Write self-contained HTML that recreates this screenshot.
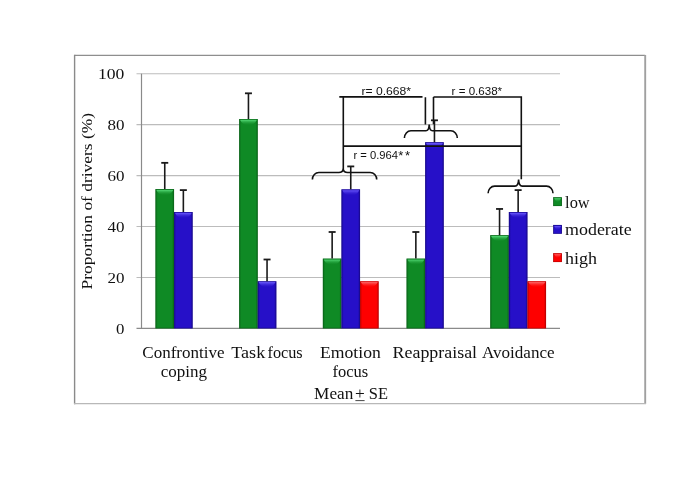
<!DOCTYPE html>
<html><head><meta charset="utf-8"><style>
html,body{margin:0;padding:0;background:#fff;}
body{width:685px;height:477px;overflow:hidden;}
svg{display:block;filter:blur(0.3px);}
.s{font-family:"Liberation Serif",serif;fill:#111;}
.a{font-family:"Liberation Sans",sans-serif;fill:#111;}
</style></head><body>
<svg width="685" height="477" viewBox="0 0 685 477">
<defs>
<linearGradient id="hg" x1="0" y1="0" x2="1" y2="0">
<stop offset="0" stop-color="#0a6a1a"/><stop offset="0.12" stop-color="#0f8a25"/>
<stop offset="0.88" stop-color="#0f8a25"/><stop offset="1" stop-color="#0a6a1a"/></linearGradient>
<linearGradient id="tg" x1="0" y1="0" x2="0" y2="1">
<stop offset="0" stop-color="#55dc78"/><stop offset="1" stop-color="#0f8a25" stop-opacity="0"/></linearGradient>
<linearGradient id="hb" x1="0" y1="0" x2="1" y2="0">
<stop offset="0" stop-color="#1a0a98"/><stop offset="0.12" stop-color="#2610c8"/>
<stop offset="0.88" stop-color="#2610c8"/><stop offset="1" stop-color="#1a0a98"/></linearGradient>
<linearGradient id="tb" x1="0" y1="0" x2="0" y2="1">
<stop offset="0" stop-color="#6e5cff"/><stop offset="1" stop-color="#2610c8" stop-opacity="0"/></linearGradient>
<linearGradient id="hr" x1="0" y1="0" x2="1" y2="0">
<stop offset="0" stop-color="#c40000"/><stop offset="0.12" stop-color="#fe0000"/>
<stop offset="0.88" stop-color="#fe0000"/><stop offset="1" stop-color="#c40000"/></linearGradient>
<linearGradient id="tr" x1="0" y1="0" x2="0" y2="1">
<stop offset="0" stop-color="#ff6a6a"/><stop offset="1" stop-color="#fe0000" stop-opacity="0"/></linearGradient>
</defs>
<line x1="74.6" y1="55.4" x2="645.2" y2="55.4" stroke="#8e8e8e" stroke-width="1.35"/>
<line x1="74.6" y1="54.8" x2="74.6" y2="404.2" stroke="#8a8a8a" stroke-width="1.4"/>
<line x1="645.2" y1="55" x2="645.2" y2="404.0" stroke="#a0a0a0" stroke-width="1.9"/>
<line x1="74" y1="403.6" x2="646" y2="403.6" stroke="#b8b8b8" stroke-width="1.4"/>
<line x1="136.5" y1="277.46" x2="560.0" y2="277.46" stroke="#bcbcbc" stroke-width="1.15"/>
<line x1="136.5" y1="226.52" x2="560.0" y2="226.52" stroke="#bcbcbc" stroke-width="1.15"/>
<line x1="136.5" y1="175.58" x2="560.0" y2="175.58" stroke="#bcbcbc" stroke-width="1.15"/>
<line x1="136.5" y1="124.64" x2="560.0" y2="124.64" stroke="#bcbcbc" stroke-width="1.15"/>
<line x1="136.5" y1="73.70" x2="560.0" y2="73.70" stroke="#bcbcbc" stroke-width="1.15"/>
<line x1="136.5" y1="328.40" x2="560" y2="328.40" stroke="#8a8a8a" stroke-width="1.2"/>
<line x1="141.5" y1="73.70" x2="141.5" y2="328.40" stroke="#8a8a8a" stroke-width="1.2"/>
<rect x="155.45" y="189.08" width="18.60" height="139.32" fill="url(#hg)"/>
<path d="M156.25 189.88 H173.25 Q171.05 194.93 164.75 195.58 Q158.45 194.93 156.25 189.88 Z" fill="url(#tg)"/>
<rect x="155.85" y="189.48" width="17.80" height="138.52" fill="none" stroke="#0b5e18" stroke-opacity="0.55" stroke-width="0.8"/>
<rect x="174.05" y="212.00" width="18.60" height="116.40" fill="url(#hb)"/>
<path d="M174.85 212.80 H191.85 Q189.65 217.85 183.35 218.50 Q177.05 217.85 174.85 212.80 Z" fill="url(#tb)"/>
<rect x="174.45" y="212.40" width="17.80" height="115.60" fill="none" stroke="#160880" stroke-opacity="0.55" stroke-width="0.8"/>
<rect x="239.15" y="119.04" width="18.60" height="209.36" fill="url(#hg)"/>
<path d="M239.95 119.84 H256.95 Q254.75 124.89 248.45 125.54 Q242.15 124.89 239.95 119.84 Z" fill="url(#tg)"/>
<rect x="239.55" y="119.44" width="17.80" height="208.56" fill="none" stroke="#0b5e18" stroke-opacity="0.55" stroke-width="0.8"/>
<rect x="257.75" y="281.28" width="18.60" height="47.12" fill="url(#hb)"/>
<path d="M258.55 282.08 H275.55 Q273.35 287.13 267.05 287.78 Q260.75 287.13 258.55 282.08 Z" fill="url(#tb)"/>
<rect x="258.15" y="281.68" width="17.80" height="46.32" fill="none" stroke="#160880" stroke-opacity="0.55" stroke-width="0.8"/>
<rect x="322.85" y="258.61" width="18.60" height="69.79" fill="url(#hg)"/>
<path d="M323.65 259.41 H340.65 Q338.45 264.46 332.15 265.11 Q325.85 264.46 323.65 259.41 Z" fill="url(#tg)"/>
<rect x="323.25" y="259.01" width="17.80" height="68.99" fill="none" stroke="#0b5e18" stroke-opacity="0.55" stroke-width="0.8"/>
<rect x="341.45" y="189.33" width="18.60" height="139.07" fill="url(#hb)"/>
<path d="M342.25 190.13 H359.25 Q357.05 195.18 350.75 195.83 Q344.45 195.18 342.25 190.13 Z" fill="url(#tb)"/>
<rect x="341.85" y="189.73" width="17.80" height="138.27" fill="none" stroke="#160880" stroke-opacity="0.55" stroke-width="0.8"/>
<rect x="360.05" y="281.28" width="18.60" height="47.12" fill="url(#hr)"/>
<path d="M360.85 282.08 H377.85 Q375.65 287.13 369.35 287.78 Q363.05 287.13 360.85 282.08 Z" fill="url(#tr)"/>
<rect x="360.45" y="281.68" width="17.80" height="46.32" fill="none" stroke="#b00000" stroke-opacity="0.55" stroke-width="0.8"/>
<rect x="406.55" y="258.61" width="18.60" height="69.79" fill="url(#hg)"/>
<path d="M407.35 259.41 H424.35 Q422.15 264.46 415.85 265.11 Q409.55 264.46 407.35 259.41 Z" fill="url(#tg)"/>
<rect x="406.95" y="259.01" width="17.80" height="68.99" fill="none" stroke="#0b5e18" stroke-opacity="0.55" stroke-width="0.8"/>
<rect x="425.15" y="142.21" width="18.60" height="186.19" fill="url(#hb)"/>
<path d="M425.95 143.01 H442.95 Q440.75 148.06 434.45 148.71 Q428.15 148.06 425.95 143.01 Z" fill="url(#tb)"/>
<rect x="425.55" y="142.61" width="17.80" height="185.39" fill="none" stroke="#160880" stroke-opacity="0.55" stroke-width="0.8"/>
<rect x="490.25" y="235.18" width="18.60" height="93.22" fill="url(#hg)"/>
<path d="M491.05 235.98 H508.05 Q505.85 241.03 499.55 241.68 Q493.25 241.03 491.05 235.98 Z" fill="url(#tg)"/>
<rect x="490.65" y="235.58" width="17.80" height="92.42" fill="none" stroke="#0b5e18" stroke-opacity="0.55" stroke-width="0.8"/>
<rect x="508.85" y="212.00" width="18.60" height="116.40" fill="url(#hb)"/>
<path d="M509.65 212.80 H526.65 Q524.45 217.85 518.15 218.50 Q511.85 217.85 509.65 212.80 Z" fill="url(#tb)"/>
<rect x="509.25" y="212.40" width="17.80" height="115.60" fill="none" stroke="#160880" stroke-opacity="0.55" stroke-width="0.8"/>
<rect x="527.45" y="281.28" width="18.60" height="47.12" fill="url(#hr)"/>
<path d="M528.25 282.08 H545.25 Q543.05 287.13 536.75 287.78 Q530.45 287.13 528.25 282.08 Z" fill="url(#tr)"/>
<rect x="527.85" y="281.68" width="17.80" height="46.32" fill="none" stroke="#b00000" stroke-opacity="0.55" stroke-width="0.8"/>
<line x1="164.75" y1="189.08" x2="164.75" y2="162.84" stroke="#1a1a1a" stroke-width="1.6"/>
<line x1="161.25" y1="162.84" x2="168.25" y2="162.84" stroke="#1a1a1a" stroke-width="1.8"/>
<line x1="183.35" y1="212.00" x2="183.35" y2="190.10" stroke="#1a1a1a" stroke-width="1.6"/>
<line x1="179.85" y1="190.10" x2="186.85" y2="190.10" stroke="#1a1a1a" stroke-width="1.8"/>
<line x1="248.45" y1="119.04" x2="248.45" y2="93.31" stroke="#1a1a1a" stroke-width="1.6"/>
<line x1="244.95" y1="93.31" x2="251.95" y2="93.31" stroke="#1a1a1a" stroke-width="1.8"/>
<line x1="267.05" y1="281.28" x2="267.05" y2="259.50" stroke="#1a1a1a" stroke-width="1.6"/>
<line x1="263.55" y1="259.50" x2="270.55" y2="259.50" stroke="#1a1a1a" stroke-width="1.8"/>
<line x1="332.15" y1="258.61" x2="332.15" y2="232.00" stroke="#1a1a1a" stroke-width="1.6"/>
<line x1="328.65" y1="232.00" x2="335.65" y2="232.00" stroke="#1a1a1a" stroke-width="1.8"/>
<line x1="350.75" y1="189.33" x2="350.75" y2="166.41" stroke="#1a1a1a" stroke-width="1.6"/>
<line x1="347.25" y1="166.41" x2="354.25" y2="166.41" stroke="#1a1a1a" stroke-width="1.8"/>
<line x1="415.85" y1="258.61" x2="415.85" y2="232.00" stroke="#1a1a1a" stroke-width="1.6"/>
<line x1="412.35" y1="232.00" x2="419.35" y2="232.00" stroke="#1a1a1a" stroke-width="1.8"/>
<line x1="434.45" y1="142.21" x2="434.45" y2="120.31" stroke="#1a1a1a" stroke-width="1.6"/>
<line x1="430.95" y1="120.31" x2="437.95" y2="120.31" stroke="#1a1a1a" stroke-width="1.8"/>
<line x1="499.55" y1="235.18" x2="499.55" y2="208.95" stroke="#1a1a1a" stroke-width="1.6"/>
<line x1="496.05" y1="208.95" x2="503.05" y2="208.95" stroke="#1a1a1a" stroke-width="1.8"/>
<line x1="518.15" y1="212.00" x2="518.15" y2="190.10" stroke="#1a1a1a" stroke-width="1.6"/>
<line x1="514.65" y1="190.10" x2="521.65" y2="190.10" stroke="#1a1a1a" stroke-width="1.8"/>
<text class="s" x="116.00" y="333.85" font-size="15.5" textLength="8.40" lengthAdjust="spacingAndGlyphs">0</text>
<text class="s" x="107.40" y="282.91" font-size="15.5" textLength="17.00" lengthAdjust="spacingAndGlyphs">20</text>
<text class="s" x="107.40" y="231.97" font-size="15.5" textLength="17.00" lengthAdjust="spacingAndGlyphs">40</text>
<text class="s" x="107.40" y="181.03" font-size="15.5" textLength="17.00" lengthAdjust="spacingAndGlyphs">60</text>
<text class="s" x="107.40" y="130.09" font-size="15.5" textLength="17.00" lengthAdjust="spacingAndGlyphs">80</text>
<text class="s" x="98.00" y="79.15" font-size="15.5" textLength="26.40" lengthAdjust="spacingAndGlyphs">100</text>
<text class="s" transform="translate(92.1,201.2) rotate(-90)" x="0" y="0" font-size="14.6" text-anchor="middle" textLength="176.5" lengthAdjust="spacingAndGlyphs">Proportion of drivers (%)</text>
<text class="s" x="142.30" y="358" font-size="16.5" textLength="82.20" lengthAdjust="spacingAndGlyphs">Confrontive</text>
<text class="s" x="160.70" y="376.7" font-size="16.5" textLength="46.30" lengthAdjust="spacingAndGlyphs">coping</text>
<text class="s" x="231.30" y="358" font-size="16.5" textLength="33.90" lengthAdjust="spacingAndGlyphs">Task</text>
<text class="s" x="267.50" y="358" font-size="16.5" textLength="35.20" lengthAdjust="spacingAndGlyphs">focus</text>
<text class="s" x="320.00" y="358" font-size="16.5" textLength="60.80" lengthAdjust="spacingAndGlyphs">Emotion</text>
<text class="s" x="332.50" y="376.7" font-size="16.5" textLength="35.70" lengthAdjust="spacingAndGlyphs">focus</text>
<text class="s" x="392.60" y="358" font-size="16.5" textLength="84.50" lengthAdjust="spacingAndGlyphs">Reappraisal</text>
<text class="s" x="481.90" y="358" font-size="16.5" textLength="72.70" lengthAdjust="spacingAndGlyphs">Avoidance</text>
<text class="s" x="314.1" y="399.2" font-size="17" textLength="39.2" lengthAdjust="spacingAndGlyphs">Mean</text>
<text class="s" x="355.0" y="399.2" font-size="17" textLength="9.8" lengthAdjust="spacingAndGlyphs">+</text>
<line x1="355.4" y1="400.6" x2="364.6" y2="400.6" stroke="#333" stroke-width="0.9"/>
<text class="s" x="368.8" y="399.2" font-size="17" textLength="19.2" lengthAdjust="spacingAndGlyphs">SE</text>
<rect x="553" y="192" width="88" height="76" fill="#fff"/>
<rect x="553.3" y="197.3" width="8.6" height="8.7" fill="url(#hg)"/>
<path d="M554.2 198.20 H561.0 Q559.5 201.80 557.6 202.50 Q555.7 201.80 554.2 198.20 Z" fill="url(#tg)"/>
<rect x="553.6" y="197.60000000000002" width="8" height="8.1" fill="none" stroke="#0b5e18" stroke-opacity="0.7" stroke-width="0.8"/>
<text class="s" x="565.1" y="207.7" font-size="17" textLength="24.6" lengthAdjust="spacingAndGlyphs">low</text>
<rect x="553.3" y="225.0" width="8.6" height="8.7" fill="url(#hb)"/>
<path d="M554.2 225.90 H561.0 Q559.5 229.50 557.6 230.20 Q555.7 229.50 554.2 225.90 Z" fill="url(#tb)"/>
<rect x="553.6" y="225.3" width="8" height="8.1" fill="none" stroke="#160880" stroke-opacity="0.7" stroke-width="0.8"/>
<text class="s" x="565.1" y="235.4" font-size="17" textLength="66.6" lengthAdjust="spacingAndGlyphs">moderate</text>
<rect x="553.3" y="253.3" width="8.6" height="8.7" fill="url(#hr)"/>
<path d="M554.2 254.20 H561.0 Q559.5 257.80 557.6 258.50 Q555.7 257.80 554.2 254.20 Z" fill="url(#tr)"/>
<rect x="553.6" y="253.60000000000002" width="8" height="8.1" fill="none" stroke="#b00000" stroke-opacity="0.7" stroke-width="0.8"/>
<text class="s" x="565.1" y="263.7" font-size="17" textLength="32" lengthAdjust="spacingAndGlyphs">high</text>
<path d="M339.3 96.85 H422.5 M343.3 96.85 V169 M425.4 97.2 V124.5" stroke="#111" stroke-width="1.6" fill="none"/>
<path d="M433.5 97.0 H521.3 V179.3 M433.5 97.0 V124.3" stroke="#111" stroke-width="1.6" fill="none"/>
<path d="M343.3 146.15 H521.3" stroke="#111" stroke-width="1.6" fill="none"/>
<path d="M312.4 179.6 C312.4 175.69 315.32 172.5 318.9 172.5 L338.80 172.5 C341.22 172.5 343.00 171.24 343.2 168.9 C343.40 171.24 345.18 172.5 347.60 172.5 L370.2 172.5 C373.77 172.5 376.7 175.69 376.7 179.6" stroke="#111" stroke-width="1.6" fill="none"/>
<path d="M404.4 138.1 C404.4 134.09 407.32 130.8 410.9 130.8 L425.90 130.8 C427.71 130.8 429.00 128.59 429.2 124.5 C429.40 128.59 430.69 130.8 432.50 130.8 L450.8 130.8 C454.38 130.8 457.3 134.09 457.3 138.1" stroke="#111" stroke-width="1.6" fill="none"/>
<path d="M488.1 193.3 C488.1 189.34 491.03 186.1 494.6 186.1 L515.00 186.1 C516.98 186.1 518.40 183.82 518.6 179.6 C518.80 183.82 520.22 186.1 522.20 186.1 L546.5 186.1 C550.08 186.1 553.0 189.34 553.0 193.3" stroke="#111" stroke-width="1.6" fill="none"/>
<text class="a" x="361.5" y="95.3" font-size="11" textLength="49.5" lengthAdjust="spacingAndGlyphs">r= 0.668*</text>
<text class="a" x="451.6" y="95.3" font-size="11" textLength="50.5" lengthAdjust="spacingAndGlyphs">r = 0.638*</text>
<text class="a" x="353.5" y="158.7" font-size="10.5" textLength="44.6" lengthAdjust="spacingAndGlyphs">r = 0.964</text>
<text class="a" x="398.3" y="160.2" font-size="13">*</text>
<text class="a" x="405.0" y="160.2" font-size="13">*</text>
</svg>
</body></html>
